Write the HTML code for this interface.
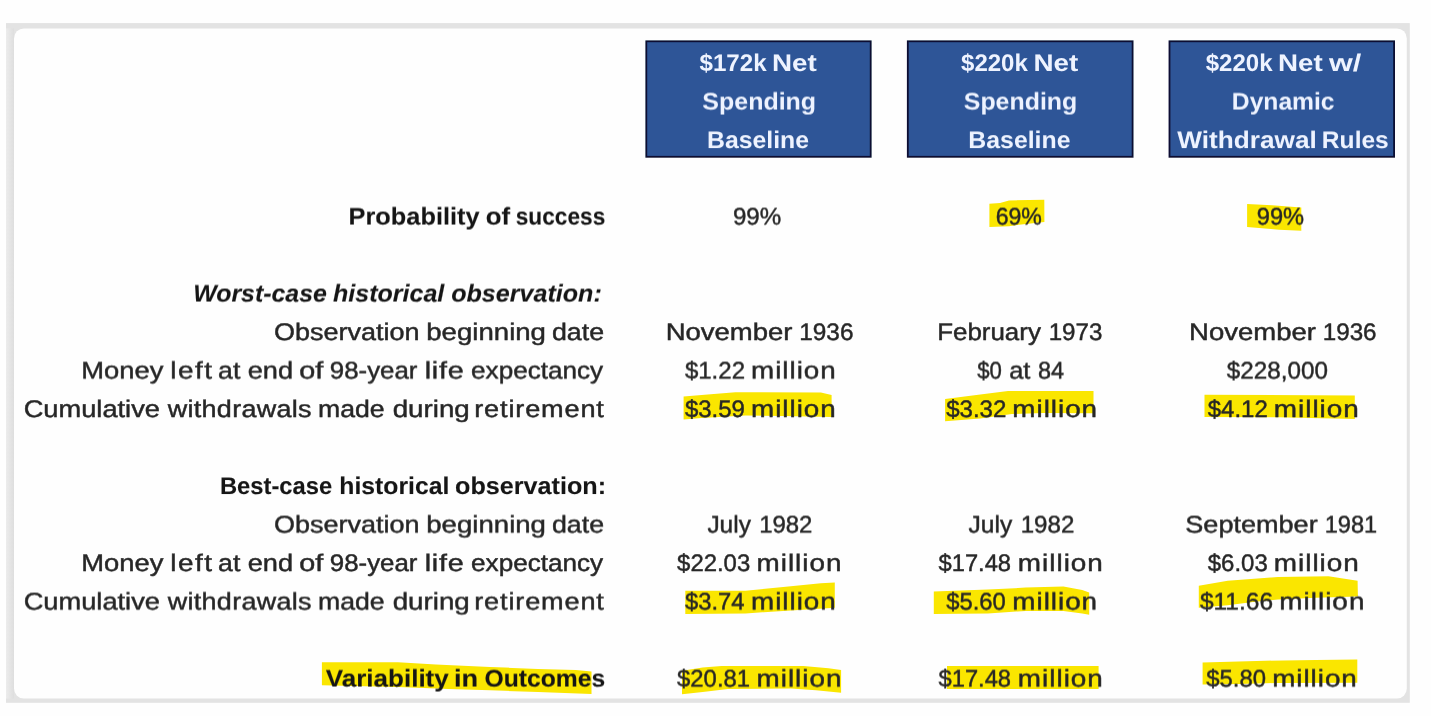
<!DOCTYPE html>
<html lang="en">
<head>
<meta charset="utf-8">
<title>Retirement spending scenarios</title>
<style>
html,body{margin:0;padding:0;background:#fefefe;}
body{width:1431px;height:716px;overflow:hidden;font-family:"Liberation Sans",sans-serif;}
svg{display:block;position:absolute;left:0;top:0;}
text{font-family:"Liberation Sans",sans-serif;font-size:24px;white-space:pre;stroke-linejoin:round;text-rendering:geometricPrecision;}
text.r{stroke:#262626;stroke-width:0.45px;}
text.b{font-weight:bold;stroke-width:0.1px;}
text.bi{font-weight:bold;font-style:italic;stroke-width:0.1px;}
</style>
</head>
<body>
<svg width="1431" height="716" viewBox="0 0 1431 716">
<defs>
<filter id="row0" filterUnits="userSpaceOnUse" x="0" y="192" width="1431" height="46" color-interpolation-filters="sRGB"><feOffset dy="1" result="o"/><feComposite in="SourceGraphic" in2="o" operator="arithmetic" k1="0" k2="0.45" k3="0.55" k4="0"/><feGaussianBlur stdDeviation="0.5"/></filter>
<filter id="row1" filterUnits="userSpaceOnUse" x="0" y="269" width="1431" height="46" color-interpolation-filters="sRGB"><feOffset dy="1" result="o"/><feComposite in="SourceGraphic" in2="o" operator="arithmetic" k1="0" k2="0.45" k3="0.55" k4="0"/><feGaussianBlur stdDeviation="0.5"/></filter>
<filter id="row2" filterUnits="userSpaceOnUse" x="0" y="308" width="1431" height="46" color-interpolation-filters="sRGB"><feOffset dy="1" result="o"/><feComposite in="SourceGraphic" in2="o" operator="arithmetic" k1="0" k2="0.95" k3="0.05" k4="0"/><feGaussianBlur stdDeviation="0.5"/></filter>
<filter id="row3" filterUnits="userSpaceOnUse" x="0" y="346" width="1431" height="46" color-interpolation-filters="sRGB"><feOffset dy="1" result="o"/><feComposite in="SourceGraphic" in2="o" operator="arithmetic" k1="0" k2="0.45" k3="0.55" k4="0"/><feGaussianBlur stdDeviation="0.5"/></filter>
<filter id="row4" filterUnits="userSpaceOnUse" x="0" y="385" width="1431" height="46" color-interpolation-filters="sRGB"><feOffset dy="1" result="o"/><feComposite in="SourceGraphic" in2="o" operator="arithmetic" k1="0" k2="0.95" k3="0.05" k4="0"/><feGaussianBlur stdDeviation="0.5"/></filter>
<filter id="row5" filterUnits="userSpaceOnUse" x="0" y="462" width="1431" height="46" color-interpolation-filters="sRGB"><feOffset dy="1" result="o"/><feComposite in="SourceGraphic" in2="o" operator="arithmetic" k1="0" k2="0.95" k3="0.05" k4="0"/><feGaussianBlur stdDeviation="0.5"/></filter>
<filter id="row6" filterUnits="userSpaceOnUse" x="0" y="500" width="1431" height="46" color-interpolation-filters="sRGB"><feOffset dy="1" result="o"/><feComposite in="SourceGraphic" in2="o" operator="arithmetic" k1="0" k2="0.45" k3="0.55" k4="0"/><feGaussianBlur stdDeviation="0.5"/></filter>
<filter id="row7" filterUnits="userSpaceOnUse" x="0" y="539" width="1431" height="46" color-interpolation-filters="sRGB"><feOffset dy="1" result="o"/><feComposite in="SourceGraphic" in2="o" operator="arithmetic" k1="0" k2="0.95" k3="0.05" k4="0"/><feGaussianBlur stdDeviation="0.5"/></filter>
<filter id="row8" filterUnits="userSpaceOnUse" x="0" y="577" width="1431" height="46" color-interpolation-filters="sRGB"><feOffset dy="1" result="o"/><feComposite in="SourceGraphic" in2="o" operator="arithmetic" k1="0" k2="0.45" k3="0.55" k4="0"/><feGaussianBlur stdDeviation="0.5"/></filter>
<filter id="row9" filterUnits="userSpaceOnUse" x="0" y="654" width="1431" height="46" color-interpolation-filters="sRGB"><feOffset dy="1" result="o"/><feComposite in="SourceGraphic" in2="o" operator="arithmetic" k1="0" k2="0.45" k3="0.55" k4="0"/><feGaussianBlur stdDeviation="0.5"/></filter>
<filter id="row10" filterUnits="userSpaceOnUse" x="0" y="39" width="1431" height="46" color-interpolation-filters="sRGB"><feOffset dy="1" result="o"/><feComposite in="SourceGraphic" in2="o" operator="arithmetic" k1="0" k2="1.00" k3="0.00" k4="0"/><feGaussianBlur stdDeviation="0.5"/></filter>
<filter id="row11" filterUnits="userSpaceOnUse" x="0" y="77" width="1431" height="46" color-interpolation-filters="sRGB"><feOffset dy="1" result="o"/><feComposite in="SourceGraphic" in2="o" operator="arithmetic" k1="0" k2="0.45" k3="0.55" k4="0"/><feGaussianBlur stdDeviation="0.5"/></filter>
<filter id="row12" filterUnits="userSpaceOnUse" x="0" y="116" width="1431" height="46" color-interpolation-filters="sRGB"><feOffset dy="1" result="o"/><feComposite in="SourceGraphic" in2="o" operator="arithmetic" k1="0" k2="0.90" k3="0.10" k4="0"/><feGaussianBlur stdDeviation="0.5"/></filter>
</defs>
<defs>
<linearGradient id="gl" x1="0" y1="0" x2="1" y2="0"><stop offset="0" stop-color="#ececec"/><stop offset="1" stop-color="#dedede"/></linearGradient>
<filter id="soft" x="-2%" y="-2%" width="104%" height="104%"><feGaussianBlur stdDeviation="0.55"/></filter>
</defs>
<g id="frame" filter="url(#soft)">
<rect x="6" y="23.1" width="1403.8" height="679.7" fill="#e3e3e3"/>
<rect x="6" y="28.4" width="8" height="670.2" fill="url(#gl)"/>
<rect x="14" y="28.4" width="1392.8" height="670.2" rx="10" ry="10" fill="#fefefe"/>
</g>
<g id="header-boxes" fill="#2f5597" stroke="#0b1130" stroke-width="1.8" filter="url(#soft)">
<rect x="646.3" y="41.3" width="224.4" height="115.5"/>
<rect x="907.8" y="41.3" width="224.8" height="115.5"/>
<rect x="1169.5" y="41.3" width="224.6" height="115.5"/>
</g>
<g id="highlights" fill="#fae600" filter="url(#soft)">
<path d="M989.4 203.7 L1000 203 L1009 200.4 L1044.3 199.7 L1044.4 222 L1019 224.8 L1009 226.3 L989.4 227 Z"/>
<path d="M1247.1 203.9 L1272 205.3 L1301.3 207.5 L1301.3 230.8 L1279 229.7 L1247.1 226.9 Z"/>
<path d="M683.6 396.6 L707.7 394.5 L735.4 392.2 L820.9 392.6 L831.6 395.1 L831.7 417.1 L783 416 L745.5 415.5 L701.4 418 L683.6 419.6 Z"/>
<path d="M945.1 398.9 L980.3 394.5 L1008 391.1 L1093.5 391.1 L1093.5 413.3 L1043 413 L1011.8 414 L980.3 418.4 L945.1 421.3 Z"/>
<path d="M1204.5 394.8 L1354.8 395.5 L1354.8 419 L1278 417.3 L1204.5 417.1 Z"/>
<path d="M685.3 590.8 L745.5 590.8 L783.2 587 L820.9 583.2 L834.8 582.6 L834.8 607.7 L783.2 610.9 L745.5 613.4 L685.3 614 Z"/>
<path d="M933.8 591.4 L987.9 589.5 L1025.6 587.6 L1063.4 586.6 L1082.2 590.1 L1089.2 592.6 L1089.2 614.7 L1082.2 613.4 L1063.4 610.9 L1025.6 610.9 L987.9 613.4 L933.8 614 Z"/>
<path d="M1198.8 585.8 L1227.7 580.7 L1278 577 L1328.4 576.3 L1357.6 580.7 L1357.9 596.4 L1315.8 597.7 L1278 599.6 L1252.9 602.1 L1227.7 605.3 L1198.8 607.8 Z"/>
<path d="M321.9 662.2 L398 662.2 L435.8 664.5 L490 667 L538 668.9 L575.8 669.9 L591.5 671.4 L591.5 694 L538 692.1 L490 690.3 L448.4 689 L398 687.1 L321.9 685.2 Z"/>
<path d="M682 670.8 L702.7 667.6 L721.6 666 L803.4 666 L828.5 668.2 L841.1 670.1 L841.1 692.8 L815.9 690.3 L790.8 688.4 L727.9 689 L702.7 692.1 L682 694.3 Z"/>
<path d="M947 666 L1098.6 666 L1098.6 689 L947 689 Z"/>
<path d="M1202.6 662.6 L1265.5 660.7 L1315.8 660.1 L1357.3 659.4 L1357.3 682.7 L1278 683 L1240.3 684 L1202.6 684.6 Z"/>
</g>
<g id="header-text">
<g>
<text class="b" y="71" fill="#eef3ff" filter="url(#row10)"><tspan x="699.48" textLength="67.16" lengthAdjust="spacingAndGlyphs">$172k</tspan> <tspan x="772.04" textLength="44.83" lengthAdjust="spacingAndGlyphs">Net</tspan></text>
<text class="b" y="109" fill="#eef3ff" filter="url(#row11)"><tspan x="702.33" textLength="113.81" lengthAdjust="spacingAndGlyphs">Spending</tspan></text>
<text class="b" y="148" fill="#eef3ff" filter="url(#row12)"><tspan x="706.96" textLength="102.10" lengthAdjust="spacingAndGlyphs">Baseline</tspan></text>
</g>
<g>
<text class="b" y="71" fill="#eef3ff" filter="url(#row10)"><tspan x="961.08" textLength="66.73" lengthAdjust="spacingAndGlyphs">$220k</tspan> <tspan x="1033.51" textLength="44.87" lengthAdjust="spacingAndGlyphs">Net</tspan></text>
<text class="b" y="109" fill="#eef3ff" filter="url(#row11)"><tspan x="963.80" textLength="113.43" lengthAdjust="spacingAndGlyphs">Spending</tspan></text>
<text class="b" y="148" fill="#eef3ff" filter="url(#row12)"><tspan x="968.33" textLength="102.17" lengthAdjust="spacingAndGlyphs">Baseline</tspan></text>
</g>
<g>
<text class="b" y="71" fill="#eef3ff" filter="url(#row10)"><tspan x="1205.75" textLength="66.80" lengthAdjust="spacingAndGlyphs">$220k</tspan> <tspan x="1278.09" textLength="44.72" lengthAdjust="spacingAndGlyphs">Net</tspan> <tspan x="1328.92" textLength="32.33" lengthAdjust="spacingAndGlyphs">w/</tspan></text>
<text class="b" y="109" fill="#eef3ff" filter="url(#row11)"><tspan x="1231.84" textLength="102.75" lengthAdjust="spacingAndGlyphs">Dynamic</tspan></text>
<text class="b" y="148" fill="#eef3ff" filter="url(#row12)"><tspan x="1177.21" textLength="139.59" lengthAdjust="spacingAndGlyphs">Withdrawal</tspan> <tspan x="1321.89" textLength="66.92" lengthAdjust="spacingAndGlyphs">Rules</tspan></text>
</g>
</g>
<g id="rows">
<g>
<text class="b" y="224" fill="#151515" stroke="#151515" filter="url(#row0)"><tspan x="348.62" textLength="130.94" lengthAdjust="spacingAndGlyphs">Probability</tspan> <tspan x="485.78" textLength="24.35" lengthAdjust="spacingAndGlyphs">of</tspan> <tspan x="515.75" textLength="89.51" lengthAdjust="spacingAndGlyphs">success</tspan></text>
<text class="r" y="224" fill="#262626" filter="url(#row0)"><tspan x="732.91" textLength="48.26" lengthAdjust="spacingAndGlyphs">99%</tspan></text>
<text class="r" y="224" fill="#262626" filter="url(#row0)"><tspan x="995.67" textLength="46.24" lengthAdjust="spacingAndGlyphs">69%</tspan></text>
<text class="r" y="224" fill="#262626" filter="url(#row0)"><tspan x="1256.77" textLength="47.32" lengthAdjust="spacingAndGlyphs">99%</tspan></text>
</g>
<g>
<text class="bi" y="301" fill="#151515" stroke="#151515" filter="url(#row1)"><tspan x="193.17" textLength="133.77" lengthAdjust="spacingAndGlyphs">Worst-case</tspan> <tspan x="333.09" textLength="111.24" lengthAdjust="spacingAndGlyphs">historical</tspan> <tspan x="451.23" textLength="150.54" lengthAdjust="spacingAndGlyphs">observation:</tspan></text>
</g>
<g>
<text class="r" y="340" fill="#262626" filter="url(#row2)"><tspan x="274.00" textLength="145.51" lengthAdjust="spacingAndGlyphs">Observation</tspan> <tspan x="426.27" textLength="119.71" lengthAdjust="spacingAndGlyphs">beginning</tspan> <tspan x="551.99" textLength="52.12" lengthAdjust="spacingAndGlyphs">date</tspan></text>
<text class="r" y="340" fill="#262626" filter="url(#row2)"><tspan x="665.71" textLength="126.79" lengthAdjust="spacingAndGlyphs">November</tspan> <tspan x="799.24" textLength="54.19" lengthAdjust="spacingAndGlyphs">1936</tspan></text>
<text class="r" y="340" fill="#262626" filter="url(#row2)"><tspan x="937.16" textLength="103.72" lengthAdjust="spacingAndGlyphs">February</tspan> <tspan x="1048.63" textLength="53.72" lengthAdjust="spacingAndGlyphs">1973</tspan></text>
<text class="r" y="340" fill="#262626" filter="url(#row2)"><tspan x="1189.11" textLength="126.78" lengthAdjust="spacingAndGlyphs">November</tspan> <tspan x="1322.79" textLength="53.79" lengthAdjust="spacingAndGlyphs">1936</tspan></text>
</g>
<g>
<text class="r" y="378" fill="#262626" filter="url(#row3)"><tspan x="81.33" textLength="82.10" lengthAdjust="spacingAndGlyphs">Money</tspan> <tspan x="170.32" textLength="43.02" lengthAdjust="spacingAndGlyphs" letter-spacing="1.25">left</tspan> <tspan x="218.14" textLength="22.18" lengthAdjust="spacingAndGlyphs">at</tspan> <tspan x="247.66" textLength="45.37" lengthAdjust="spacingAndGlyphs">end</tspan> <tspan x="299.36" textLength="23.99" lengthAdjust="spacingAndGlyphs">of</tspan> <tspan x="329.79" textLength="87.69" lengthAdjust="spacingAndGlyphs">98-year</tspan> <tspan x="424.69" textLength="39.80" lengthAdjust="spacingAndGlyphs" letter-spacing="0.65">life</tspan> <tspan x="471.09" textLength="132.10" lengthAdjust="spacingAndGlyphs">expectancy</tspan></text>
<text class="r" y="378" fill="#262626" filter="url(#row3)"><tspan x="684.92" textLength="60.10" lengthAdjust="spacingAndGlyphs">$1.22</tspan> <tspan x="751.11" textLength="85.50" lengthAdjust="spacingAndGlyphs" letter-spacing="0.83">million</tspan></text>
<text class="r" y="378" fill="#262626" filter="url(#row3)"><tspan x="977.29" textLength="24.67" lengthAdjust="spacingAndGlyphs">$0</tspan> <tspan x="1009.20" textLength="21.19" lengthAdjust="spacingAndGlyphs">at</tspan> <tspan x="1038.01" textLength="26.13" lengthAdjust="spacingAndGlyphs">84</tspan></text>
<text class="r" y="378" fill="#262626" filter="url(#row3)"><tspan x="1226.82" textLength="101.05" lengthAdjust="spacingAndGlyphs">$228,000</tspan></text>
</g>
<g>
<text class="r" y="417" fill="#262626" filter="url(#row4)"><tspan x="23.65" textLength="136.32" lengthAdjust="spacingAndGlyphs">Cumulative</tspan> <tspan x="167.75" textLength="144.08" lengthAdjust="spacingAndGlyphs" letter-spacing="0.26">withdrawals</tspan> <tspan x="318.05" textLength="66.65" lengthAdjust="spacingAndGlyphs">made</tspan> <tspan x="392.68" textLength="77.09" lengthAdjust="spacingAndGlyphs">during</tspan> <tspan x="474.26" textLength="130.47" lengthAdjust="spacingAndGlyphs" letter-spacing="0.74">retirement</tspan></text>
<text class="r" y="417" fill="#262626" filter="url(#row4)"><tspan x="684.92" textLength="60.06" lengthAdjust="spacingAndGlyphs">$3.59</tspan> <tspan x="751.11" textLength="85.50" lengthAdjust="spacingAndGlyphs" letter-spacing="0.83">million</tspan></text>
<text class="r" y="417" fill="#262626" filter="url(#row4)"><tspan x="946.15" textLength="60.21" lengthAdjust="spacingAndGlyphs">$3.32</tspan> <tspan x="1012.39" textLength="85.68" lengthAdjust="spacingAndGlyphs" letter-spacing="0.83">million</tspan></text>
<text class="r" y="417" fill="#262626" filter="url(#row4)"><tspan x="1207.74" textLength="60.02" lengthAdjust="spacingAndGlyphs">$4.12</tspan> <tspan x="1273.85" textLength="85.86" lengthAdjust="spacingAndGlyphs" letter-spacing="0.83">million</tspan></text>
</g>
<g>
<text class="b" y="494" fill="#151515" stroke="#151515" filter="url(#row5)"><tspan x="219.95" textLength="112.31" lengthAdjust="spacingAndGlyphs">Best-case</tspan> <tspan x="339.29" textLength="110.05" lengthAdjust="spacingAndGlyphs">historical</tspan> <tspan x="455.04" textLength="151.11" lengthAdjust="spacingAndGlyphs">observation:</tspan></text>
</g>
<g>
<text class="r" y="532" fill="#262626" filter="url(#row6)"><tspan x="274.00" textLength="145.51" lengthAdjust="spacingAndGlyphs">Observation</tspan> <tspan x="426.27" textLength="119.71" lengthAdjust="spacingAndGlyphs">beginning</tspan> <tspan x="551.99" textLength="52.12" lengthAdjust="spacingAndGlyphs">date</tspan></text>
<text class="r" y="532" fill="#262626" filter="url(#row6)"><tspan x="707.40" textLength="43.50" lengthAdjust="spacingAndGlyphs">July</tspan> <tspan x="759.13" textLength="53.31" lengthAdjust="spacingAndGlyphs">1982</tspan></text>
<text class="r" y="532" fill="#262626" filter="url(#row6)"><tspan x="968.55" textLength="43.64" lengthAdjust="spacingAndGlyphs">July</tspan> <tspan x="1020.68" textLength="53.64" lengthAdjust="spacingAndGlyphs">1982</tspan></text>
<text class="r" y="532" fill="#262626" filter="url(#row6)"><tspan x="1185.28" textLength="132.44" lengthAdjust="spacingAndGlyphs">September</tspan> <tspan x="1324.75" textLength="52.49" lengthAdjust="spacingAndGlyphs">1981</tspan></text>
</g>
<g>
<text class="r" y="571" fill="#262626" filter="url(#row7)"><tspan x="81.33" textLength="82.10" lengthAdjust="spacingAndGlyphs">Money</tspan> <tspan x="170.32" textLength="43.02" lengthAdjust="spacingAndGlyphs" letter-spacing="1.25">left</tspan> <tspan x="218.14" textLength="22.18" lengthAdjust="spacingAndGlyphs">at</tspan> <tspan x="247.66" textLength="45.37" lengthAdjust="spacingAndGlyphs">end</tspan> <tspan x="299.36" textLength="23.99" lengthAdjust="spacingAndGlyphs">of</tspan> <tspan x="329.79" textLength="87.69" lengthAdjust="spacingAndGlyphs">98-year</tspan> <tspan x="424.69" textLength="39.80" lengthAdjust="spacingAndGlyphs" letter-spacing="0.65">life</tspan> <tspan x="471.09" textLength="132.10" lengthAdjust="spacingAndGlyphs">expectancy</tspan></text>
<text class="r" y="571" fill="#262626" filter="url(#row7)"><tspan x="677.11" textLength="73.09" lengthAdjust="spacingAndGlyphs">$22.03</tspan> <tspan x="756.48" textLength="86.08" lengthAdjust="spacingAndGlyphs" letter-spacing="0.88">million</tspan></text>
<text class="r" y="571" fill="#262626" filter="url(#row7)"><tspan x="938.53" textLength="72.55" lengthAdjust="spacingAndGlyphs">$17.48</tspan> <tspan x="1017.78" textLength="86.14" lengthAdjust="spacingAndGlyphs" letter-spacing="0.88">million</tspan></text>
<text class="r" y="571" fill="#262626" filter="url(#row7)"><tspan x="1207.74" textLength="60.00" lengthAdjust="spacingAndGlyphs">$6.03</tspan> <tspan x="1273.85" textLength="85.86" lengthAdjust="spacingAndGlyphs" letter-spacing="0.83">million</tspan></text>
</g>
<g>
<text class="r" y="609" fill="#262626" filter="url(#row8)"><tspan x="23.65" textLength="136.32" lengthAdjust="spacingAndGlyphs">Cumulative</tspan> <tspan x="167.75" textLength="144.08" lengthAdjust="spacingAndGlyphs" letter-spacing="0.26">withdrawals</tspan> <tspan x="318.05" textLength="66.65" lengthAdjust="spacingAndGlyphs">made</tspan> <tspan x="392.68" textLength="77.09" lengthAdjust="spacingAndGlyphs">during</tspan> <tspan x="474.26" textLength="130.47" lengthAdjust="spacingAndGlyphs" letter-spacing="0.74">retirement</tspan></text>
<text class="r" y="609" fill="#262626" filter="url(#row8)"><tspan x="684.93" textLength="59.60" lengthAdjust="spacingAndGlyphs">$3.74</tspan> <tspan x="751.11" textLength="85.50" lengthAdjust="spacingAndGlyphs" letter-spacing="0.83">million</tspan></text>
<text class="r" y="609" fill="#262626" filter="url(#row8)"><tspan x="946.18" textLength="59.62" lengthAdjust="spacingAndGlyphs">$5.60</tspan> <tspan x="1012.39" textLength="85.68" lengthAdjust="spacingAndGlyphs" letter-spacing="0.83">million</tspan></text>
<text class="r" y="609" fill="#262626" filter="url(#row8)"><tspan x="1199.92" textLength="73.11" lengthAdjust="spacingAndGlyphs">$11.66</tspan> <tspan x="1279.27" textLength="86.16" lengthAdjust="spacingAndGlyphs" letter-spacing="0.88">million</tspan></text>
</g>
<g>
<text class="b" y="686" fill="#151515" stroke="#151515" filter="url(#row9)"><tspan x="325.78" textLength="122.99" lengthAdjust="spacingAndGlyphs">Variability</tspan> <tspan x="453.96" textLength="24.16" lengthAdjust="spacingAndGlyphs">in</tspan> <tspan x="484.44" textLength="120.70" lengthAdjust="spacingAndGlyphs">Outcomes</tspan></text>
<text class="r" y="686" fill="#262626" filter="url(#row9)"><tspan x="677.09" textLength="72.98" lengthAdjust="spacingAndGlyphs">$20.81</tspan> <tspan x="756.48" textLength="86.08" lengthAdjust="spacingAndGlyphs" letter-spacing="0.88">million</tspan></text>
<text class="r" y="686" fill="#262626" filter="url(#row9)"><tspan x="938.53" textLength="72.55" lengthAdjust="spacingAndGlyphs">$17.48</tspan> <tspan x="1017.78" textLength="86.14" lengthAdjust="spacingAndGlyphs" letter-spacing="0.88">million</tspan></text>
<text class="r" y="686" fill="#262626" filter="url(#row9)"><tspan x="1206.26" textLength="59.72" lengthAdjust="spacingAndGlyphs">$5.80</tspan> <tspan x="1272.19" textLength="85.58" lengthAdjust="spacingAndGlyphs" letter-spacing="0.83">million</tspan></text>
</g>
</g>
</svg>
</body>
</html>
